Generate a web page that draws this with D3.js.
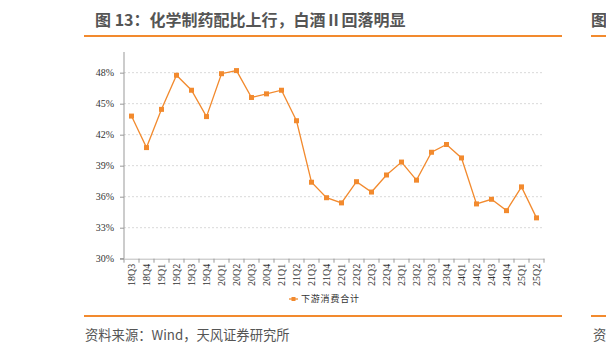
<!DOCTYPE html>
<html>
<head>
<meta charset="utf-8">
<script src="https://cdn.jsdelivr.net/npm/d3@7"></script>
<style>
  body { margin: 0; background: #fff; }
  svg { display: block; }
</style>
</head>
<body>
<svg id="chart" width="606" height="354"></svg>
<script>
// 数据
const quarters = ['18Q3','18Q4','19Q1','19Q2','19Q3','19Q4','20Q1','20Q2','20Q3','20Q4',
  '21Q1','21Q2','21Q3','21Q4','22Q1','22Q2','22Q3','22Q4','23Q1','23Q2','23Q3','23Q4',
  '24Q1','24Q2','24Q3','24Q4','25Q1','25Q2'];
const downstream = [43.8, 40.75, 44.45, 47.75, 46.3, 43.75, 47.9, 48.2, 45.6, 45.95,
  46.3, 43.35, 37.4, 35.9, 35.4, 37.45, 36.45, 38.1, 39.35, 37.6, 40.3, 41.05,
  39.75, 35.3, 35.75, 34.65, 36.95, 33.95];
const yTicks = [30, 33, 36, 39, 42, 45, 48];
const seriesName = '下游消费合计';

const svg = d3.select('#chart');
const orange = '#f28a2e';
const cjk = '"Noto Sans CJK SC", "Noto Sans", sans-serif';
const serif = '"Liberation Serif", "DejaVu Serif", serif';

// 标题和上下分隔线
svg.append('text')
  .attr('x', 95).attr('y', 26)
  .attr('font-family', cjk).attr('font-size', 16).attr('font-weight', 'bold')
  .attr('fill', '#555')
  .text('图 13：化学制药配比上行，白酒Ⅱ回落明显');
svg.append('text')
  .attr('x', 591).attr('y', 26)
  .attr('font-family', cjk).attr('font-size', 16).attr('font-weight', 'bold')
  .attr('fill', '#555')
  .text('图');
[[84, 562], [591, 606]].forEach(([a, b]) => {
  svg.append('line').attr('x1', a).attr('x2', b).attr('y1', 36).attr('y2', 36)
    .attr('stroke', orange).attr('stroke-width', 2);
  svg.append('line').attr('x1', a).attr('x2', b).attr('y1', 316).attr('y2', 316)
    .attr('stroke', orange).attr('stroke-width', 2);
});
svg.append('text')
  .attr('x', 85).attr('y', 340)
  .attr('font-family', cjk).attr('font-size', 13.3).attr('fill', '#555')
  .text('资料来源：Wind，天风证券研究所');
svg.append('text')
  .attr('x', 593).attr('y', 340)
  .attr('font-family', cjk).attr('font-size', 13.3).attr('fill', '#555')
  .text('资');

// 绘图区
const plotL = 124, plotR = 544, plotT = 52, plotB = 258.7;

const x = d3.scaleBand().domain(quarters).range([plotL, plotR]);
const y = d3.scaleLinear().domain([30, 50]).range([plotB, plotT]);

// 网格线
svg.append('g')
  .selectAll('line')
  .data(yTicks.filter(d => d > 30))
  .enter().append('line')
  .attr('x1', plotL).attr('x2', plotR)
  .attr('y1', d => y(d)).attr('y2', d => y(d))
  .attr('stroke', '#d9d9d9').attr('stroke-dasharray', '2,2');

// Y轴
const yAxis = svg.append('g')
  .attr('transform', `translate(${plotL},0)`)
  .call(d3.axisLeft(y).tickValues(yTicks).tickSize(4).tickFormat(d => d + '%'));
yAxis.select('.domain').attr('stroke', '#999').attr('d', `M-4,${plotB}H0V${plotT}`);
yAxis.selectAll('.tick line').attr('stroke', '#999');
yAxis.selectAll('text')
  .style('font-family', serif).attr('font-size', 10).attr('fill', '#333')
  .attr('x', -10);

// X轴
const xAxis = svg.append('g')
  .attr('transform', `translate(0,${plotB})`)
  .call(d3.axisBottom(x).tickSize(0).tickSizeOuter(0));
xAxis.select('.domain').attr('stroke', '#bbb');
xAxis.selectAll('.tick line').remove();
svg.append('g')
  .selectAll('line')
  .data(d3.range(quarters.length + 1))
  .enter().append('line')
  .attr('x1', i => plotL + i * x.step()).attr('x2', i => plotL + i * x.step())
  .attr('y1', plotB).attr('y2', plotB + 4)
  .attr('stroke', '#999');
xAxis.selectAll('text')
  .style('font-family', serif).attr('font-size', 10).attr('fill', '#333')
  .attr('transform', 'rotate(-90)')
  .attr('text-anchor', 'end')
  .attr('x', -5).attr('y', 0).attr('dy', '0.35em');

// 折线
const line = d3.line()
  .x((d, i) => x(quarters[i]) + x.bandwidth() / 2)
  .y(d => y(d));
svg.append('path')
  .datum(downstream)
  .attr('fill', 'none')
  .attr('stroke', orange)
  .attr('stroke-width', 1.3)
  .attr('d', line);
svg.append('g')
  .selectAll('rect')
  .data(downstream)
  .enter().append('rect')
  .attr('x', (d, i) => x(quarters[i]) + x.bandwidth() / 2 - 2.5)
  .attr('y', d => y(d) - 2.5)
  .attr('width', 5).attr('height', 5)
  .attr('fill', orange);

// 图例
const lg = svg.append('g').attr('transform', 'translate(289,299)');
lg.append('line').attr('x1', 0).attr('x2', 9).attr('y1', 0).attr('y2', 0)
  .attr('stroke', orange).attr('stroke-width', 1.3);
lg.append('rect').attr('x', 2.5).attr('y', -2).attr('width', 4).attr('height', 4)
  .attr('fill', orange);
lg.append('text')
  .attr('x', 12).attr('y', 0).attr('dy', '0.35em')
  .attr('font-family', cjk).attr('font-size', 9).attr('letter-spacing', 0.8)
  .attr('fill', '#333')
  .text(seriesName);
</script>
</body>
</html>
